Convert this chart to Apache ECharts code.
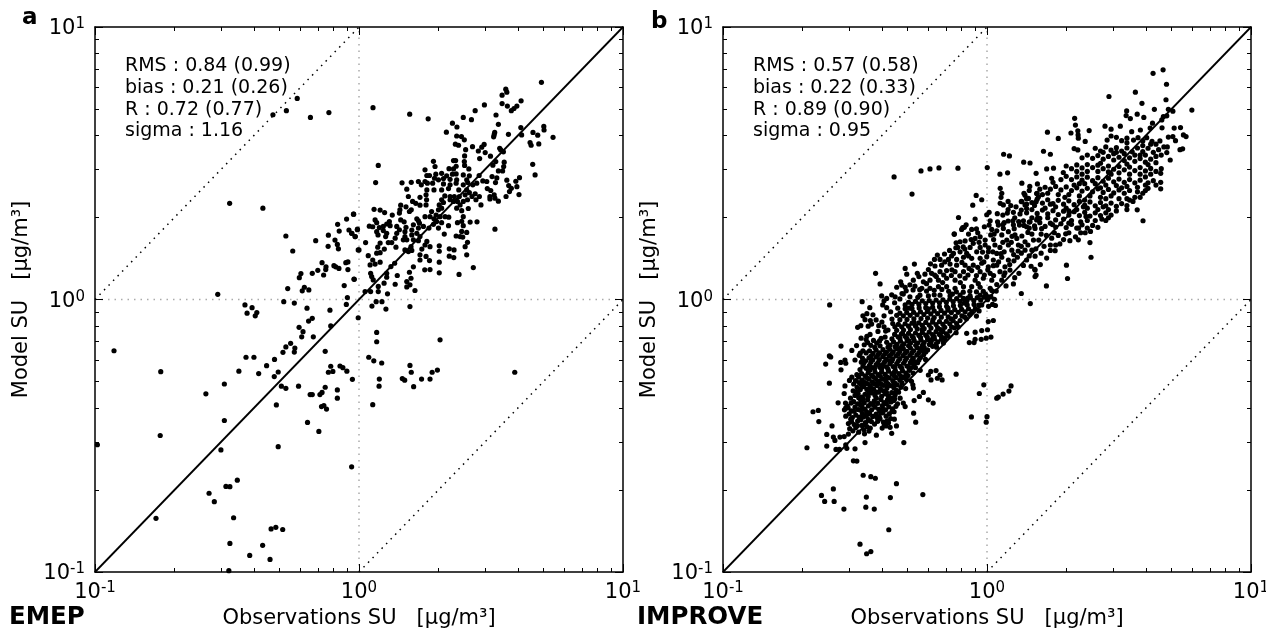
<!DOCTYPE html>
<html><head><meta charset="utf-8">
<script src="https://cdn.jsdelivr.net/npm/echarts@6/dist/echarts.min.js"></script>
<style>html,body{margin:0;background:#fff}#c{width:1266px;height:629px}</style></head>
<body><div id="c"></div>
<script>
const emepLog10 = [[-.234,.738],[-.275,.693],[-.326,.678],[-.184,.668],[-.114,.686],[-.49,.353],[-.364,.335],[-.535,.019],[-.432,-.02],[-.405,-.03],[-.277,.233],[-.251,.178],[-.164,.216],[-.116,.236],[-.081,.276],[-.047,.295],[-.02,.313],[-.075,.251],[-.038,.255],[-.027,.243],[-.014,.231],[-.006,.258],[-.091,.218],[-.082,.202],[-.117,.195],[-.078,.186],[-.003,.182],[-.14,.135],[-.125,.12],[-.126,.11],[-.156,.107],[-.177,.096],[-.134,.09],[-.095,.124],[-.088,.12],[-.076,.114],[-.05,.135],[-.042,.138],[-.042,.11],[-.018,.074],[-.22,.095],[-.226,.08],[-.27,.04],[-.207,.045],[-.215,.032],[-.19,.035],[-.056,.051],[-.044,.007],[-.048,-.018],[-.285,-.008],[-.245,-.013],[-.197,-.032],[-.11,-.039],
[-.424,-.05],[-.387,-.048],[-.393,-.06],[-.177,-.069],[-.191,-.079],[-.003,-.067],[-.227,-.102],[-.107,-.097],[-.212,-.118],[-.217,-.137],[-.173,-.137],[-.259,-.161],[-.277,-.174],[-.243,-.178],[-.245,-.193],[-.288,-.194],[-.928,-.188],[-.428,-.212],[-.398,-.212],[-.128,-.19],[-.32,-.22],[-.35,-.243],[-.455,-.263],[-.38,-.272],[-.306,-.266],[-.321,-.283],[-.751,-.265],[-.51,-.31],[-.58,-.346],[-.294,-.318],[-.277,-.326],[-.229,-.318],[-.185,-.349],[-.177,-.349],[-.148,-.349],[-.14,-.341],[-.128,-.322],[-.107,-.245],[-.116,-.267],[-.099,-.264],[-.072,-.244],[-.061,-.25],[-.046,-.263],[-.025,-.293],[-.082,-.332],[-.082,-.362],[-.313,-.387],[-.142,-.393],[-.133,-.389],[-.123,-.402],[-.51,-.444],[-.195,-.451],[-.152,-.484],[-.753,-.499],[-.991,-.533],[-.306,-.54],[-.523,-.552],[-.028,-.614],[-.461,-.663],[-.504,-.686],[-.489,-.687],[-.568,-.711],[-.548,-.742],[-.769,-.803],[-.475,-.801],[-.333,-.842],[-.315,-.836],[-.289,-.844],[-.489,-.895],[-.365,-.902],[-.414,-.939],[-.337,-.954],[-.493,-.995],
[.049,-.024],[.065,-.008],[.087,-.008],[.102,-.035],[.193,-.026],[.067,-.121],[.067,-.155],[.307,-.148],[.037,-.212],[.056,-.225],[.086,-.233],[.193,-.242],[.198,-.267],[.277,-.267],[.297,-.259],[.164,-.29],[.173,-.296],[.237,-.292],[.269,-.292],[.077,-.292],[.076,-.318],[.207,-.32],[.052,-.386],[.59,-.267],
[.691,.797],[.556,.772],[.56,.761],[.542,.75],[.542,.719],[.562,.71],[.614,.729],[.598,.71],[.587,.701],[.577,.693],[.475,.714],[.44,.693],[.053,.704],[.192,.68],[.262,.663],[.395,.668],[.426,.66],[.519,.677],[.528,.643],[.354,.647],[.371,.633],[.331,.614],[.613,.631],[.7,.635],[.701,.622],[.659,.613],[.677,.603],[.735,.595],[.616,.604],[.566,.606],[.514,.613],[.512,.605],[.51,.597],[.37,.6],[.388,.598],[.399,.586],[.648,.576],[.652,.566],[.681,.571],[.365,.57],[.377,.566],[.43,.561],[.474,.569],[.465,.559],[.452,.545],[.404,.55],[.478,.539],[.533,.555],[.537,.549],[.547,.542],[.4,.527],[.457,.517],[.498,.526],[.358,.51],[.366,.51],[.282,.507],[.399,.506],[.4,.492],[.518,.506],[.507,.493],[.55,.504],[.548,.488],[.658,.496],[.073,.492],[.288,.488],[.341,.48],[.368,.489],[.358,.479],[.416,.479],[.25,.476],[.544,.472],[.528,.472],[.667,.457],[.455,.455],[.257,.455],[.267,.455],[.291,.46],[.313,.463],[.332,.454],[.354,.46],[.368,.461],[.395,.457],[.418,.454],[.504,.451],[.522,.446],[.608,.447],[.56,.438],[.286,.445],[.301,.439],[.32,.444],[.345,.441],[.37,.439],[.408,.439],[.25,.433],[.225,.433],[.198,.43],[.163,.428],[.063,.429],[.469,.435],[.484,.433],[.517,.429],[.594,.434],[.236,.421],[.259,.427],[.279,.427],[.32,.424],[.345,.421],[.368,.427],[.395,.421],[.412,.429],[.446,.427],[.431,.421],[.598,.414],[.567,.418],[.577,.408],[.486,.407],[.181,.405],[.257,.402],[.284,.402],[.313,.402],[.339,.407],[.378,.402],[.408,.402],[.418,.392],[.499,.4],[.57,.396],[.606,.385],[.557,.378],[.187,.378],[.231,.375],[.254,.384],[.325,.38],[.345,.378],[.361,.378],[.38,.378],[.402,.384],[.428,.378],[.44,.388],[.456,.378],[.496,.378],[.512,.384],[.496,.369],[.515,.372],[.528,.361],[.203,.36],[.215,.353],[.231,.346],[.256,.366],[.254,.347],[.158,.346],[.178,.34],[.313,.366],[.32,.356],[.345,.366],[.358,.36],[.373,.36],[.395,.36],[.411,.366],[.443,.366],[.462,.347],[.383,.347],[.304,.347],[.313,.335],[.37,.335],[.389,.326],[.414,.334],[.057,.331],[.08,.328],[.097,.319],[.155,.329],[.153,.317],[.126,.31],[.198,.329],[.191,.323],[-.021,.313],[.275,.323],[.301,.329],[.292,.31],[.269,.304],[.25,.304],[.284,.296],[.307,.304],[.326,.304],[.34,.302],[.395,.304],[.061,.292],[.067,.282],[.158,.292],[.115,.286],[.219,.296],[.225,.289],[.171,.285],[.294,.286],[.313,.282],[.339,.271],[.389,.287],[.373,.282],[.421,.284],[.447,.285],[.039,.269],[.052,.267],[.118,.271],[.105,.277],[.077,.264],[.092,.268],[.143,.268],[.153,.256],[.178,.265],[.206,.274],[.229,.28],[.282,.276],[.301,.262],[.515,.258],[.395,.271],[-.006,.256],[-.028,.243],[-.015,.231],[.067,.249],[.092,.253],[.105,.243],[.143,.243],[.174,.249],[.2,.255],[.225,.262],[.244,.268],[.265,.262],[.072,.237],[.101,.231],[.137,.225],[.174,.231],[.2,.237],[.219,.243],[.231,.231],[.323,.24],[.368,.233],[.383,.231],[.389,.25],[.408,.246],[.393,.229],[.025,.209],[.111,.209],[.124,.209],[.08,.207],[.168,.219],[.181,.219],[.206,.219],[.225,.216],[.257,.213],[.411,.21],[.402,.194],[.25,.2],[.269,.194],[.304,.197],[.071,.192],[.14,.192],[.197,.194],[.096,.185],[.08,.172],[0,.182],[.174,.182],[.187,.176],[.2,.18],[.238,.185],[.304,.177],[.342,.186],[.36,.182],[.067,.17],[.035,.161],[.231,.164],[.408,.164],[.254,.158],[.342,.159],[.359,.154],[.231,.145],[.267,.143],[.052,.145],[.08,.137],[.042,.127],[.061,.13],[.304,.137],[.135,.133],[.121,.121],[.206,.12],[.433,.117],[.249,.109],[.269,.11],[.044,.096],[.105,.096],[.304,.098],[.191,.1],[.048,.084],[.105,.082],[.145,.088],[.379,.092],[-.019,.075],[.054,.072],[.197,.078],[.181,.066],[.095,.06],[.137,.056],[.193,.054],[.181,.046],[.073,.048],[.073,.029],[.023,.029],[.044,.029],[.212,.033],[.108,.021]];

const improveLog10 = [
[-.405,.057],[-.596,-.02],[-.473,-.008],[-.553,-.171],[-.512,-.187],[-.48,-.197],[-.597,-.207],[-.592,-.211],[-.611,-.237],[-.554,-.231],[-.538,-.222],[-.535,-.234],[-.553,-.258],[-.597,-.307],[-.538,-.317],[-.541,-.345],[-.521,-.297],[-.512,-.285],[-.564,-.379],[-.536,-.38],[-.535,-.398],[-.515,-.38],[-.659,-.412],[-.639,-.407],[-.637,-.448],[-.587,-.464],[-.607,-.495],[-.582,-.505],[-.576,-.517],[-.557,-.505],[-.541,-.503],[-.525,-.494],[-.607,-.538],[-.682,-.544],[-.572,-.55],[-.559,-.55],[-.535,-.533],[-.531,-.546],[-.5,-.548],[-.462,-.525],[-.464,-.493],[-.419,-.498],[-.361,-.491],[-.315,-.525],[-.506,-.592],[-.493,-.593],[-.469,-.645],[-.44,-.65],[-.423,-.656],[-.343,-.676],[-.582,-.695],[-.627,-.719],[-.615,-.741],[-.579,-.741],[-.457,-.725],[-.366,-.727],[-.243,-.716],[-.542,-.769],[-.459,-.762],[-.427,-.769],[-.372,-.845],[-.481,-.898],[-.44,-.925],[-.456,-.933],[-.059,-.431],[0,-.43],[-.003,-.45],[-.029,-.345],[-.012,-.313],[.037,-.362],[.043,-.358],[-.27,-.45],[-.278,-.417],[-.204,-.38],[-.222,-.368],[-.241,-.341],[-.256,-.356],[-.276,-.371],[-.117,-.274],[-.17,-.295],[-.178,-.277],[-.193,-.261],[-.213,-.264],[-.222,-.277],[-.212,-.295],[-.188,-.289],[-.279,-.325],[-.281,-.313],[-.343,-.464],[-.351,-.439],[-.367,-.469],[-.382,-.464],[-.397,-.472],[-.31,-.393],[-.317,-.38],[-.339,-.383],[-.36,-.411],[-.067,-.158],[-.049,-.158],[-.045,-.146],[-.022,-.146],[-.003,-.142],[.015,-.138],[-.02,-.114],[.002,-.111],[-.045,-.12],[-.077,-.124],[.005,-.081],[.024,-.077],[.061,-.347],[.083,-.336],[.091,-.317],[-.352,.45],[-.284,.387],[-.25,.472],[-.216,.479],[-.182,.483],
[-.52,-.474],[-.508,-.482],[-.497,-.47],[-.486,-.487],[-.474,-.462],[-.466,-.478],[-.455,-.466],[-.447,-.483],[-.525,-.455],[-.513,-.448],[-.503,-.459],[-.49,-.446],[-.478,-.441],[-.461,-.452],[-.45,-.44],[-.438,-.448],[-.426,-.457],[-.414,-.447],[-.405,-.438],[-.392,-.45],[-.378,-.445],[-.535,-.428],[-.522,-.42],[-.51,-.433],[-.497,-.424],[-.484,-.432],[-.472,-.418],[-.458,-.427],[-.445,-.417],[-.433,-.429],[-.42,-.421],[-.408,-.43],[-.395,-.416],[-.382,-.428],[-.37,-.42],[-.54,-.405],[-.526,-.398],[-.513,-.409],[-.5,-.395],[-.487,-.404],[-.474,-.393],[-.462,-.402],[-.449,-.39],[-.437,-.405],[-.424,-.395],[-.41,-.403],[-.397,-.39],[-.384,-.405],[-.372,-.394],[-.358,-.401],[-.505,-.375],[-.49,-.383],[-.478,-.37],[-.465,-.379],[-.452,-.368],[-.44,-.382],[-.427,-.372],[-.414,-.381],[-.402,-.367],[-.39,-.378],[-.377,-.368],[-.364,-.376],[-.35,-.365],[-.5,-.352],[-.488,-.345],[-.475,-.358],[-.462,-.348],[-.45,-.356],[-.437,-.343],[-.424,-.352],[-.411,-.34],[-.399,-.355],[-.386,-.346],[-.374,-.354],[-.361,-.342],[-.348,-.35],[-.335,-.34],[-.492,-.322],[-.48,-.33],[-.467,-.32],[-.455,-.33],[-.442,-.318],[-.43,-.328],[-.417,-.316],[-.404,-.327],[-.392,-.315],[-.379,-.325],[-.366,-.316],[-.353,-.324],[-.34,-.313],[-.326,-.322],[-.498,-.298],[-.485,-.305],[-.472,-.296],[-.46,-.305],[-.447,-.292],[-.435,-.302],[-.422,-.29],[-.409,-.3],[-.396,-.292],[-.383,-.3],[-.37,-.288],[-.357,-.298],[-.344,-.287],[-.33,-.296],[-.318,-.287],[-.305,-.294],[-.475,-.272],[-.462,-.28],[-.45,-.268],[-.437,-.278],[-.424,-.266],[-.412,-.276],[-.399,-.265],[-.386,-.275],[-.373,-.263],[-.36,-.273],[-.347,-.262],[-.334,-.272],[-.32,-.262],[-.307,-.27],[-.294,-.26],[-.28,-.27],[-.47,-.245],[-.458,-.252],[-.445,-.242],[-.432,-.25],[-.42,-.239],[-.406,-.249],[-.394,-.238],[-.381,-.247],[-.368,-.236],[-.355,-.246],[-.342,-.235],[-.329,-.245],[-.316,-.234],[-.303,-.244],[-.29,-.232],[-.277,-.241],[-.263,-.232],[-.5,-.222],[-.472,-.215],[-.46,-.225],[-.447,-.214],[-.433,-.222],[-.42,-.211],[-.408,-.221],[-.395,-.21],[-.382,-.22],[-.37,-.208],[-.357,-.218],[-.344,-.207],[-.33,-.217],[-.318,-.206],[-.305,-.216],[-.292,-.205],[-.279,-.215],[-.266,-.204],[-.252,-.213],[-.24,-.203],[-.458,-.196],[-.445,-.188],[-.432,-.198],[-.42,-.186],[-.407,-.196],[-.394,-.184],[-.381,-.194],[-.368,-.183],[-.355,-.192],[-.342,-.181],[-.33,-.191],[-.317,-.18],[-.304,-.19],[-.29,-.178],[-.278,-.188],[-.264,-.177],[-.252,-.187],[-.238,-.176],[-.225,-.185],[-.465,-.166],[-.452,-.158],[-.44,-.168],[-.418,-.16],[-.405,-.17],[-.38,-.157],[-.367,-.167],[-.354,-.155],[-.341,-.165],[-.328,-.153],[-.315,-.163],[-.302,-.151],[-.29,-.161],[-.276,-.15],[-.263,-.16],[-.25,-.149],[-.238,-.158],[-.225,-.147],[-.212,-.156],[-.199,-.145],[-.186,-.155],[-.172,-.146],[-.455,-.135],[-.443,-.128],[-.35,-.128],[-.337,-.137],[-.324,-.126],[-.31,-.135],[-.297,-.124],[-.284,-.134],[-.271,-.123],[-.258,-.132],[-.245,-.121],[-.232,-.131],[-.219,-.12],[-.206,-.129],[-.193,-.118],[-.18,-.128],[-.167,-.117],[-.154,-.126],[-.141,-.116],[-.49,-.102],[-.478,-.096],[-.45,-.098],[-.437,-.09],[-.41,-.096],[-.39,-.1],[-.349,-.1],[-.336,-.091],[-.323,-.1],[-.31,-.089],[-.297,-.098],[-.284,-.087],[-.271,-.097],[-.258,-.086],[-.245,-.095],[-.232,-.084],[-.219,-.094],[-.206,-.083],[-.193,-.092],[-.18,-.081],[-.167,-.091],[-.154,-.08],[-.141,-.089],[-.128,-.078],[-.115,-.088],[-.102,-.077],[-.47,-.06],[-.455,-.052],[-.432,-.056],[-.39,-.06],[-.342,-.058],[-.33,-.05],[-.317,-.06],[-.304,-.048],[-.291,-.058],[-.278,-.047],[-.265,-.056],[-.252,-.045],[-.239,-.055],[-.226,-.044],[-.213,-.053],[-.2,-.042],[-.187,-.052],[-.174,-.04],[-.161,-.05],[-.148,-.039],[-.135,-.048],[-.122,-.037],[-.109,-.047],[-.096,-.036],[-.083,-.045],[-.07,-.034],[-.057,-.044],[-.044,-.033],[-.03,-.042],[-.39,-.005],[-.395,-.02],[-.35,-.012],[-.31,-.02],[-.297,-.01],[-.284,-.018],[-.271,-.007],[-.258,-.017],[-.245,-.005],[-.232,-.015],[-.219,-.004],[-.206,-.013],[-.193,-.002],[-.18,-.012],[-.167,-.001],[-.154,-.01],[-.141,.001],[-.128,-.008],[-.115,.003],[-.102,-.007],[-.089,.004],[-.076,-.005],[-.063,.006],[-.05,-.004],[-.037,.007],[-.024,-.002],[-.011,.009],[.002,-.001],[.015,.01],[.028,.001],
[.629,.83],[.667,.843],[.68,.79],[.462,.745],[.562,.761],[.678,.733],[.587,.72],[.634,.698],[.687,.698],[.704,.691],[.776,.695],[.529,.692],[.527,.675],[.543,.664],[.569,.68],[.594,.668],[.668,.671],[.681,.674],[.662,.659],[.332,.665],[.335,.64],[.229,.614],[.27,.591],[.318,.611],[.344,.619],[.345,.604],[.346,.592],[.387,.62],[.372,.58],[.447,.636],[.47,.625],[.505,.636],[.548,.616],[.581,.622],[.627,.647],[.618,.629],[.663,.63],[.709,.629],[.733,.631],[.687,.596],[.704,.598],[.714,.583],[.744,.604],[.754,.598],[.731,.55],[.741,.553],[.683,.56],[.681,.539],[.694,.512],[.214,.544],[.24,.533],[.33,.554],[.344,.549],[.063,.533],[.085,.527],[.139,.504],[.163,.501],[-.11,.482],[.001,.484],[.226,.479],[.252,.482],[.186,.463],[.049,.46],[.078,.465],[.289,.466],[.132,.427],[.191,.424],[.162,.415],[.245,.445],[.658,.463],[.658,.43],[.658,.406],[.553,.36],[.569,.329],[.591,.289],[.6,.4],[.392,.25],[.39,.209],[.394,.155],[.346,.219],[.301,.126],[.305,.077],[.225,.05],[.258,.179],[.186,.09],[.181,.111],[.164,-.015],[.13,.022],[.05,.408],[.056,.39],[-.041,.382],[-.02,.366],[-.054,.346],[.05,.353],[.062,.347],[-.108,.301],[-.045,.295],[-.001,.311],[.008,.32],[.039,.315],[.077,.317],[-.124,.241],[-.079,.274],[-.092,.264],
[.455,.585],[.47,.6],[.49,.595],[.51,.583],[.53,.592],[.555,.585],[.572,.594],[.59,.582],[.605,.594],[.625,.58],[.64,.57],[.655,.582],[.41,.555],[.43,.545],[.45,.56],[.47,.548],[.49,.557],[.51,.545],[.53,.556],[.55,.542],[.57,.556],[.59,.543],[.61,.555],[.63,.54],[.65,.55],[.36,.52],[.38,.53],[.4,.518],[.42,.528],[.44,.515],[.46,.525],[.48,.512],[.5,.522],[.52,.51],[.54,.52],[.56,.507],[.58,.517],[.6,.504],[.62,.515],[.64,.502],[.3,.49],[.32,.48],[.34,.494],[.36,.483],[.38,.495],[.4,.484],[.42,.493],[.44,.48],[.46,.49],[.48,.478],[.5,.488],[.52,.476],[.54,.486],[.56,.473],[.58,.484],[.6,.472],[.62,.481],[.64,.47],[.28,.44],[.3,.452],[.32,.44],[.34,.45],[.36,.438],[.38,.449],[.4,.436],[.42,.447],[.44,.434],[.46,.445],[.48,.432],[.5,.442],[.52,.43],[.54,.44],[.56,.428],[.58,.438],[.61,.428],[.63,.436],[.14,.39],[.16,.4],[.2,.405],[.22,.412],[.24,.405],[.26,.415],[.28,.402],[.3,.413],[.32,.4],[.34,.41],[.36,.398],[.38,.408],[.4,.395],[.42,.406],[.44,.393],[.46,.404],[.48,.391],[.5,.402],[.52,.39],[.54,.4],[.57,.395],[.59,.39],[.13,.36],[.15,.37],[.17,.356],[.19,.368],[.21,.354],[.23,.366],[.25,.352],[.27,.364],[.29,.35],[.31,.362],[.33,.348],[.35,.36],[.37,.346],[.39,.358],[.41,.344],[.43,.356],[.45,.344],[.47,.354],[.49,.342],[.51,.352],[.53,.345],[.08,.33],[.1,.32],[.13,.328],[.15,.318],[.17,.33],[.19,.316],[.21,.328],[.23,.314],[.25,.326],[.27,.312],[.29,.324],[.31,.31],[.33,.322],[.35,.308],[.37,.32],[.39,.306],[.41,.318],[.43,.308],[.45,.318],[.47,.31],[.04,.285],[.06,.275],[.08,.288],[.1,.274],[.12,.286],[.14,.272],[.16,.284],[.18,.27],[.2,.282],[.22,.268],[.24,.28],[.26,.266],[.28,.278],[.3,.264],[.32,.276],[.34,.262],[.36,.274],[.38,.262],[.4,.272],
[.053,.375],[.188,.389],[.144,.383],[.157,.371],[.132,.359],[.144,.347],[.15,.334],[.186,.359],[.195,.377],[.125,.314],[.012,.289],[.008,.273],[-.01,.267],[.065,.282],[.098,.289],[.138,.289],[.163,.285],[.188,.292],[.123,.273],[.15,.267],[.182,.261],[-.086,.265],[-.096,.257],[-.04,.259],[-.058,.257],[-.07,.24],[-.124,.239],[.043,.273],[.062,.261],[.081,.249],[.106,.237],[.037,.252],[.056,.237],[.075,.218],[.113,.224],[.119,.2],[.144,.212],[.176,.218],[-.045,.224],[-.026,.23],[-.007,.218],[.014,.237],[.018,.257],[-.083,.215],[-.102,.212],[-.117,.208],[-.111,.191],[-.052,.206],[-.064,.191],[-.026,.191],[-.007,.2],[.03,.2],[.049,.191],[.081,.2],[.094,.181],[.144,.181],[.17,.181],[.182,.159],[.037,.169],[.005,.175],[-.039,.175],[-.077,.169],[-.102,.175],[-.127,.169],[-.188,.163],[-.161,.167],[-.178,.147],[-.146,.147],[-.115,.147],[-.089,.155],[-.058,.151],[-.026,.151],[-.001,.157],[.024,.145],[.056,.155],[.081,.145],[.115,.155],[.15,.145],[-.275,.13],[-.31,.114],[-.422,.096],[-.264,.096],[-.304,.093],[-.279,.071],[-.222,.11],[-.197,.123],[-.172,.126],[-.14,.13],[-.115,.126],[-.083,.126],[-.052,.126],[-.02,.133],[.005,.12],[.037,.126],[.068,.12],[-.235,.093],[-.21,.096],[-.178,.102],[-.153,.106],[-.121,.102],[-.089,.102],[-.058,.106],[-.026,.102],[.012,.096],[.049,.102],[.087,.108],[-.323,.053],[-.342,.045],[-.31,.045],[-.273,.049],[-.241,.065],[-.216,.071],[-.184,.071],[-.153,.078],[-.121,.071],[-.083,.078],[-.045,.071],[-.014,.078],[.018,.071],[.056,.071],[-.247,.041],[-.216,.041],[-.184,.047],[-.153,.047],[-.121,.041],[-.089,.047],[-.058,.047],[-.026,.045],[.012,.041],[-.399,.013],[-.38,.004],[-.348,.01],[-.317,.02],[-.292,.01],[-.254,.016],[-.222,.013],[-.178,.016],[-.14,.013],[-.102,.016],[-.064,.013],[-.026,.016],[.005,.01],[.1,.057],[.121,.096],[.182,.084],[.182,.108],
[-.516,-.439],[-.491,-.463],[-.468,-.431],[-.442,-.472],[-.417,-.433],[-.389,-.461],[-.365,-.437],[-.529,-.391],[-.503,-.41],[-.481,-.385],[-.456,-.412],[-.431,-.386],[-.403,-.415],[-.381,-.383],[-.352,-.412],[-.517,-.362],[-.494,-.338],[-.469,-.364],[-.443,-.333],[-.419,-.362],[-.393,-.335],[-.368,-.36],[-.343,-.333],[-.329,-.362],[-.505,-.31],[-.476,-.313],[-.451,-.31],[-.427,-.309],[-.401,-.31],[-.376,-.309],[-.349,-.307],[-.322,-.306],[-.308,-.327],[-.486,-.285],[-.456,-.286],[-.431,-.283],[-.404,-.282],[-.379,-.284],[-.352,-.28],[-.326,-.282],[-.299,-.279],[-.286,-.3],[-.481,-.257],[-.451,-.255],[-.426,-.253],[-.399,-.253],[-.375,-.255],[-.349,-.25],[-.323,-.252],[-.296,-.25],[-.271,-.25],[-.253,-.26],[-.466,-.232],[-.44,-.23],[-.413,-.232],[-.388,-.229],[-.361,-.227],[-.336,-.226],[-.31,-.224],[-.285,-.223],[-.258,-.222],[-.233,-.22],[-.47,-.188],[-.439,-.208],[-.413,-.203],[-.388,-.201],[-.362,-.2],[-.336,-.199],[-.31,-.197],[-.285,-.196],[-.258,-.195],[-.232,-.193],[-.206,-.172],[-.458,-.147],[-.43,-.15],[-.401,-.143],[-.375,-.175],[-.348,-.173],[-.322,-.171],[-.297,-.17],[-.27,-.168],[-.244,-.167],[-.218,-.165],[-.193,-.164],[-.165,-.16],[-.413,-.117],[-.386,-.138],[-.36,-.144],[-.33,-.142],[-.304,-.142],[-.279,-.141],[-.252,-.139],[-.226,-.138],[-.2,-.136],[-.173,-.135],[-.148,-.134],[-.123,-.104],[-.462,-.074],[-.42,-.075],[-.375,-.112],[-.342,-.113],[-.316,-.112],[-.29,-.11],[-.264,-.108],[-.238,-.107],[-.212,-.105],[-.187,-.104],[-.16,-.102],[-.134,-.101],[-.109,-.1],[-.085,-.064],[-.36,-.072],[-.33,-.074],[-.303,-.073],[-.277,-.071],[-.25,-.07],[-.225,-.068],[-.2,-.066],[-.173,-.065],[-.147,-.064],[-.12,-.062],[-.095,-.06],[-.066,-.055],[-.04,-.061],[-.02,-.02],[-.38,-.03],[-.338,-.032],[-.31,-.034],[-.284,-.033],[-.257,-.031],[-.232,-.03],[-.206,-.028],[-.18,-.027],[-.153,-.025],[-.127,-.023],[-.101,-.022],[-.075,-.02],[-.049,-.018],[.006,-.025],[.032,-.022],[-.33,.002],[-.306,.032],[-.28,.035],[-.255,.036],[-.229,.031],[-.2,.034],[-.171,.037],[-.145,.03],[-.116,.028],[-.09,.027],[-.065,.03],[-.04,.028],[-.014,.03],[.018,.033],[.035,.031],[-.192,.084],[-.164,.09],[-.135,.088],[-.103,.087],[-.072,.09],[-.04,.088],[-.01,.09],[.025,.088],[.064,.088],[-.118,.19],[-.09,.193],[-.06,.22],[-.03,.21],[.006,.19],[.025,.22],[.06,.21],[.092,.21],[.13,.195],[.155,.2],[.17,.24],[.022,.175],[.065,.175],[.101,.165],[.13,.17],[.16,.16],[.205,.17],[.216,.195],[.24,.18],[.26,.2],[.205,.24],[.225,.235],[.245,.225],[.27,.235],[.29,.22],[.31,.245],[.335,.23],[.355,.245],[.17,.3],[.2,.298],[.23,.3],[.26,.292],[.29,.295],[.32,.29],[.355,.285],[.38,.29],[.41,.29],[.435,.295],[.46,.3],[.08,.36],[.11,.34],[.15,.35],[.22,.335],[.26,.34],[.3,.335],[.34,.33],[.38,.335],[.42,.33],[.46,.33],[.5,.37],[.53,.37],[.56,.375],[.47,.38],[.43,.375],[.39,.38],[.35,.38],[.31,.385],[.27,.385],[.23,.39],[.19,.39],[.33,.42],[.37,.425],[.41,.425],[.45,.42],[.49,.418],[.53,.415],[.57,.412],[.61,.408],[.62,.46],[.58,.46],[.54,.46],[.5,.465],[.46,.468],[.42,.47],[.38,.47],[.34,.47],[.56,.53],[.52,.535],[.48,.535],[.44,.54],[.6,.53],[.64,.525],[.66,.53],
[-.451,-.421],[-.373,-.452],[-.478,-.406],[-.394,-.402],[-.345,-.392],[-.486,-.361],[-.421,-.339],[-.354,-.371],[-.507,-.335],[-.448,-.343],[-.381,-.341],[-.344,-.337],[-.474,-.311],[-.414,-.302],[-.352,-.309],[-.493,-.276],[-.443,-.259],[-.386,-.291],[-.311,-.283],[-.476,-.23],[-.401,-.243],[-.352,-.267],[-.289,-.251],[-.484,-.205],[-.425,-.176],[-.369,-.225],[-.274,-.229],[-.238,-.19],[-.494,-.169],[-.407,-.152],[-.332,-.18],[-.247,-.176],[-.191,-.175],[-.477,-.142],[-.384,-.116],[-.296,-.152],[-.208,-.146],[-.159,-.143],[-.442,-.077],[-.398,-.083],[-.32,-.124],[-.245,-.11],[-.176,-.11],[-.117,-.122],[-.357,-.088],[-.276,-.085],[-.205,-.075],[-.136,-.071],[-.078,-.071],[-.444,-.03],[-.365,-.045],[-.296,-.032],[-.222,-.034],[-.148,-.032],[-.086,-.013],[-.031,-.021],[-.361,.017],[-.322,.022],[-.262,.008],[-.2,.017],[-.131,.02],[-.073,.005],[-.005,.019],[.021,-.018],[-.327,.065],[-.292,.054],[-.229,.058],[-.168,.062],[-.101,.062],[-.033,.058],[.037,.055],[.072,.05],[-.258,.084],[-.198,.09],[-.133,.109],[-.068,.114],[.003,.109],[.068,.098],[.105,.08],[-.214,.131],[-.16,.138],[-.095,.136],[-.035,.118],[.024,.124],[.086,.128],[.138,.125],[-.199,.147],[-.134,.16],[-.07,.16],[-.012,.138],[.044,.138],[.102,.142],[.167,.122],[.202,.128],[-.142,.18],[-.084,.185],[-.017,.174],[.053,.168],[.118,.178],[.185,.186],[.226,.152],[-.035,.245],[.027,.24],[.095,.232],[.132,.233],[.155,.246],[.196,.218],[.24,.2],[.276,.204],[.314,.216],[.207,.26],[.255,.245],[.298,.241],[.347,.262],[.372,.245],[.103,.26],[.16,.262],[.192,.3],[.248,.275],[.31,.28],[.375,.305],[.42,.265],[.45,.29],[.105,.3],[.06,.31],[.09,.345],[.18,.345],[.24,.35],[.31,.325],[.365,.34],[.44,.34],[.49,.325],[.53,.33],[.21,.385],[.295,.375],[.37,.365],[.45,.37],[.54,.365],[.58,.375],[.25,.43],[.35,.425],[.43,.41],[.51,.41],[.6,.42],[.64,.42],[.36,.46],[.47,.46],[.6,.45],[.43,.5],[.53,.497],[.61,.495],[.66,.48],[.49,.54],[.58,.53],[.62,.57],[.53,.575],[.59,.565],[.67,.56]
];

const statsEmep = ['RMS : 0.84 (0.99)','bias : 0.21 (0.26)','R : 0.72 (0.77)','sigma : 1.16'];
const statsImprove = ['RMS : 0.57 (0.58)','bias : 0.22 (0.33)','R : 0.89 (0.90)','sigma : 0.95'];
const panelLetters = ['a','b'];
const networkNames = ['EMEP','IMPROVE'];
const axisMin = 0.1, axisMax = 10;
const oneToOne = [[.1,.1],[10,10]];
const tenTimes = [[.1,1],[1,10]];
const oneTenth = [[1,.1],[10,1]];
const xUnity = [[1,.1],[1,10]];
const yUnity = [[.1,1],[10,1]];

const F = 'DejaVu Sans';
const exp = v => '{b|10}{s|' + Math.round(Math.log10(v)) + '}';
const rich = { b:{fontFamily:F,fontSize:21,color:'#000'}, s:{fontFamily:F,fontSize:15,color:'#000',verticalAlign:'bottom',padding:[0,0,9,0]} };
function axis(i, pos, show, name) {
  return { type:'log', logBase:10, min:axisMin, max:axisMax, gridIndex:i, position:pos, z:5,
    name:name, nameLocation:'middle', nameGap:pos==='left'?63:33, nameRotate:pos==='left'?90:0,
    nameTextStyle:{fontFamily:F,fontSize:21,color:'#000'},
    axisLine:{show:true,onZero:false,lineStyle:{color:'#000',width:1.5}},
    axisTick:{show:true,inside:true,length:8,lineStyle:{color:'#000',width:1}},
    minorTick:{show:true,splitNumber:9,length:4,lineStyle:{color:'#000',width:1}},
    splitLine:{show:false},minorSplitLine:{show:false},
    axisLabel:{show:show,formatter:exp,rich:rich,margin:pos==='left'?10:9,padding:pos==='left'?[4,0,0,0]:0,showMinLabel:true,showMaxLabel:true}};
}
const grids=[{left:95,top:27,width:528,height:545,outerBoundsMode:'none'},{left:723,top:27,width:528,height:545,outerBoundsMode:'none'}];
const xName='Observations SU   [µg/m³]', yName='Model SU   [µg/m³]';
const xAxes=[],yAxes=[],series=[],graphic=[];
[0,1].forEach(i=>{
  xAxes.push(axis(i,'bottom',true,xName),axis(i,'top',false,''));
  yAxes.push(axis(i,'left',true,yName),axis(i,'right',false,''));
  const xi=i*2, yi=i*2;
  const line=(d,c,w,t)=>({type:'line',xAxisIndex:xi,yAxisIndex:yi,data:d,showSymbol:false,symbol:'none',silent:true,animation:false,lineStyle:{color:c,width:w,type:t},z:1});
  series.push(line(xUnity,'#aaa',1.5,[1.5,5]),line(yUnity,'#aaa',1.5,[1.5,5]),line(tenTimes,'#000',1.5,[1.5,5]),line(oneTenth,'#000',1.5,[1.5,5]),line(oneToOne,'#000',1.8,'solid'));
  const pts=(i?improveLog10:emepLog10).map(p=>[10**p[0],10**p[1]]);
  series.push({type:'scatter',xAxisIndex:xi,yAxisIndex:yi,data:pts,symbol:'circle',symbolSize:5.2,itemStyle:{color:'#000',opacity:1},animation:false,z:3});
  const dx=i*628;
  (i?statsImprove:statsEmep).forEach((t,k)=>graphic.push({type:'text',left:125+dx,top:57+k*21.6,style:{text:t,fontFamily:F,fontSize:19,fill:'#000'}}));
  graphic.push({type:'text',left:i?651:22,top:i?11:7,style:{text:panelLetters[i],fontFamily:F,fontWeight:'bold',fontSize:23,fill:'#000'}});
  graphic.push({type:'text',left:i?637:9,top:605,style:{text:networkNames[i],fontFamily:F,fontWeight:'bold',fontSize:24.5,fill:'#000'}});
});
const chart=echarts.init(document.getElementById('c'),null,{renderer:'canvas'});
chart.setOption({animation:false,backgroundColor:'#fff',grid:grids,xAxis:xAxes,yAxis:yAxes,series:series,graphic:graphic});
</script></body></html>
